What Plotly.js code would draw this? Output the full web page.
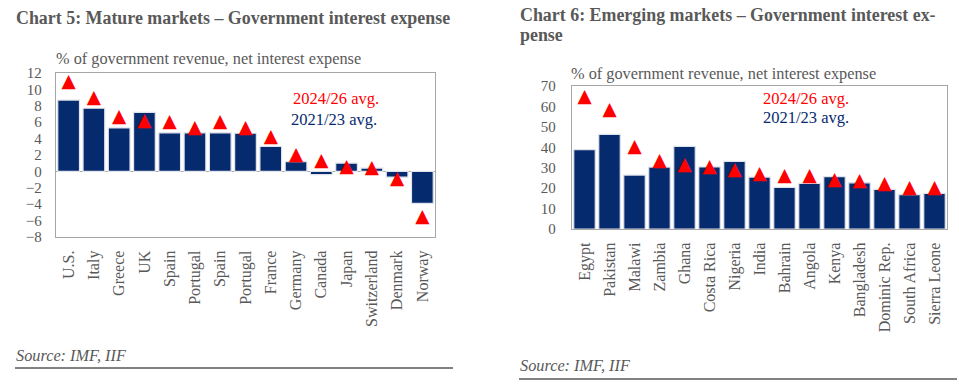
<!DOCTYPE html>
<html><head><meta charset="utf-8">
<script src="https://cdn.plot.ly/plotly-3.0.1.min.js"></script>
<style>html,body{margin:0;padding:0;background:#fff}</style>
</head><body><div id="chart" style="width:959px;height:392px"></div>
<script>
const matureCountries = ["U.S.","Italy","Greece","UK","Spain","Portugal","Spain","Portugal","France","Germany","Canada","Japan","Switzerland","Denmark","Norway"];
const mature2021_23 = [8.7,7.7,5.3,7.2,4.7,4.7,4.7,4.65,3.05,1.2,-0.4,1.0,0.4,-0.7,-3.9];
const mature2024_26 = [10.9,8.85,6.6,6.1,6.0,5.3,6.0,5.2,4.2,1.9,1.2,0.45,0.35,-0.95,-5.55];
const emergingCountries = ["Egypt","Pakistan","Malawi","Zambia","Ghana","Costa Rica","Nigeria","India","Bahrain","Angola","Kenya","Bangladesh","Dominic Rep.","South Africa","Sierra Leone"];
const emerging2021_23 = [38.9,46.3,26.4,30.3,40.4,30.4,33.1,25.4,20.4,22.3,25.6,22.6,19.4,16.8,17.4];
const emerging2024_26 = [64.6,58.3,39.9,32.9,31.1,30.3,28.7,26.5,25.6,25.6,23.9,23.4,22.0,19.9,20.0];

const W = 959, H = 392;
const px = x => x / W, py = y => 1 - y / H;
const NAVY = "#062a6e", RED = "#ff0000", GRAY = "#595959", FRAME = "#a6a6a6";
const FONT = "Liberation Serif, Times New Roman, serif";
const idxM = matureCountries.map((_, i) => i);
const idxE = emergingCountries.map((_, i) => i);

const barStyle = {color: NAVY, line: {color: "#dfe3ec", width: 1.2}};
const triText = {family: "DejaVu Sans", size: 18.5, color: RED};

const data = [
  {type: "bar", x: idxM, y: mature2021_23, marker: barStyle, xaxis: "x", yaxis: "y"},
  {type: "scatter", mode: "text", x: idxM, y: mature2024_26, text: idxM.map(() => "▲"),
   textposition: "middle center", textfont: triText, xaxis: "x", yaxis: "y", cliponaxis: false},
  {type: "bar", x: idxE, y: emerging2021_23, marker: barStyle, xaxis: "x2", yaxis: "y2"},
  {type: "scatter", mode: "text", x: idxE, y: emerging2024_26, text: idxE.map(() => "▲"),
   textposition: "middle center", textfont: triText, xaxis: "x2", yaxis: "y2", cliponaxis: false}
];

const axisCommon = {
  showline: true, linecolor: FRAME, linewidth: 1.2, mirror: true,
  showgrid: false, ticks: "", tickfont: {family: FONT, size: 16, color: GRAY}
};

const titleFont = {family: FONT, size: 17.9, color: GRAY};
const layout = {
  width: W, height: H, margin: {l: 0, r: 0, t: 0, b: 0},
  paper_bgcolor: "#fff", plot_bgcolor: "#fff",
  showlegend: false, bargap: 0.14,
  font: {family: FONT, color: GRAY},
  xaxis: Object.assign({}, axisCommon, {
    domain: [px(56), px(435)], range: [-0.5, 14.5],
    tickvals: idxM, ticktext: matureCountries, tickangle: -90, ticklabelstandoff: 6,
    zeroline: false, anchor: "y"
  }),
  yaxis: Object.assign({}, axisCommon, {
    domain: [py(237), py(73)], range: [-8, 12], dtick: 2, tick0: 0,
    zeroline: true, zerolinecolor: FRAME, zerolinewidth: 1.2,
    tickfont: {family: FONT, size: 15, color: GRAY}, ticklabelstandoff: 10, anchor: "x"
  }),
  xaxis2: Object.assign({}, axisCommon, {
    domain: [px(572), px(947)], range: [-0.5, 14.5],
    tickvals: idxE, ticktext: emergingCountries, tickangle: -90, ticklabelstandoff: 6,
    zeroline: false, anchor: "y2"
  }),
  yaxis2: Object.assign({}, axisCommon, {
    domain: [py(229), py(86)], range: [0, 70], dtick: 10,
    zeroline: false,
    tickfont: {family: FONT, size: 15, color: GRAY}, ticklabelstandoff: 12, anchor: "x2"
  }),
  annotations: [
    {text: "<b>Chart 5: Mature markets – Government interest expense</b>", xref: "paper", yref: "paper",
     x: px(14), y: py(18), xanchor: "left", yanchor: "middle", showarrow: false, font: titleFont},
    {text: "<b>Chart 6: Emerging markets – Government interest ex-</b>", xref: "paper", yref: "paper",
     x: px(518), y: py(15), xanchor: "left", yanchor: "middle", showarrow: false, font: titleFont},
    {text: "<b>pense</b>", xref: "paper", yref: "paper",
     x: px(518), y: py(35), xanchor: "left", yanchor: "middle", showarrow: false, font: titleFont},
    {text: "% of government revenue, net interest expense", xref: "paper", yref: "paper",
     x: px(54), y: py(58.5), xanchor: "left", yanchor: "middle", showarrow: false,
     font: {family: FONT, size: 16.3, color: GRAY}},
    {text: "% of government revenue, net interest expense", xref: "paper", yref: "paper",
     x: px(569), y: py(74), xanchor: "left", yanchor: "middle", showarrow: false,
     font: {family: FONT, size: 16.3, color: GRAY}},
    {text: "2024/26 avg.", xref: "paper", yref: "paper", x: px(291), y: py(99),
     xanchor: "left", yanchor: "middle", showarrow: false, font: {family: FONT, size: 16.5, color: RED}},
    {text: "2021/23 avg.", xref: "paper", yref: "paper", x: px(289), y: py(119),
     xanchor: "left", yanchor: "middle", showarrow: false, font: {family: FONT, size: 16.5, color: NAVY}},
    {text: "2024/26 avg.", xref: "paper", yref: "paper", x: px(761), y: py(99),
     xanchor: "left", yanchor: "middle", showarrow: false, font: {family: FONT, size: 16.5, color: RED}},
    {text: "2021/23 avg.", xref: "paper", yref: "paper", x: px(761), y: py(118),
     xanchor: "left", yanchor: "middle", showarrow: false, font: {family: FONT, size: 16.5, color: NAVY}},
    {text: "<i>Source: IMF, IIF</i>", xref: "paper", yref: "paper", x: px(14), y: py(355),
     xanchor: "left", yanchor: "middle", showarrow: false, font: {family: FONT, size: 16.3, color: GRAY}},
    {text: "<i>Source: IMF, IIF</i>", xref: "paper", yref: "paper", x: px(518), y: py(365),
     xanchor: "left", yanchor: "middle", showarrow: false, font: {family: FONT, size: 16.3, color: GRAY}}
  ],
  shapes: [
    {type: "line", xref: "paper", yref: "paper", x0: px(15), x1: px(453), y0: py(368), y1: py(368),
     line: {color: GRAY, width: 1.5}},
    {type: "line", xref: "paper", yref: "paper", x0: px(519), x1: px(957), y0: py(379), y1: py(379),
     line: {color: GRAY, width: 1.5}}
  ]
};

Plotly.newPlot("chart", data, layout, {displayModeBar: false, staticPlot: true});
</script>
</body></html>
